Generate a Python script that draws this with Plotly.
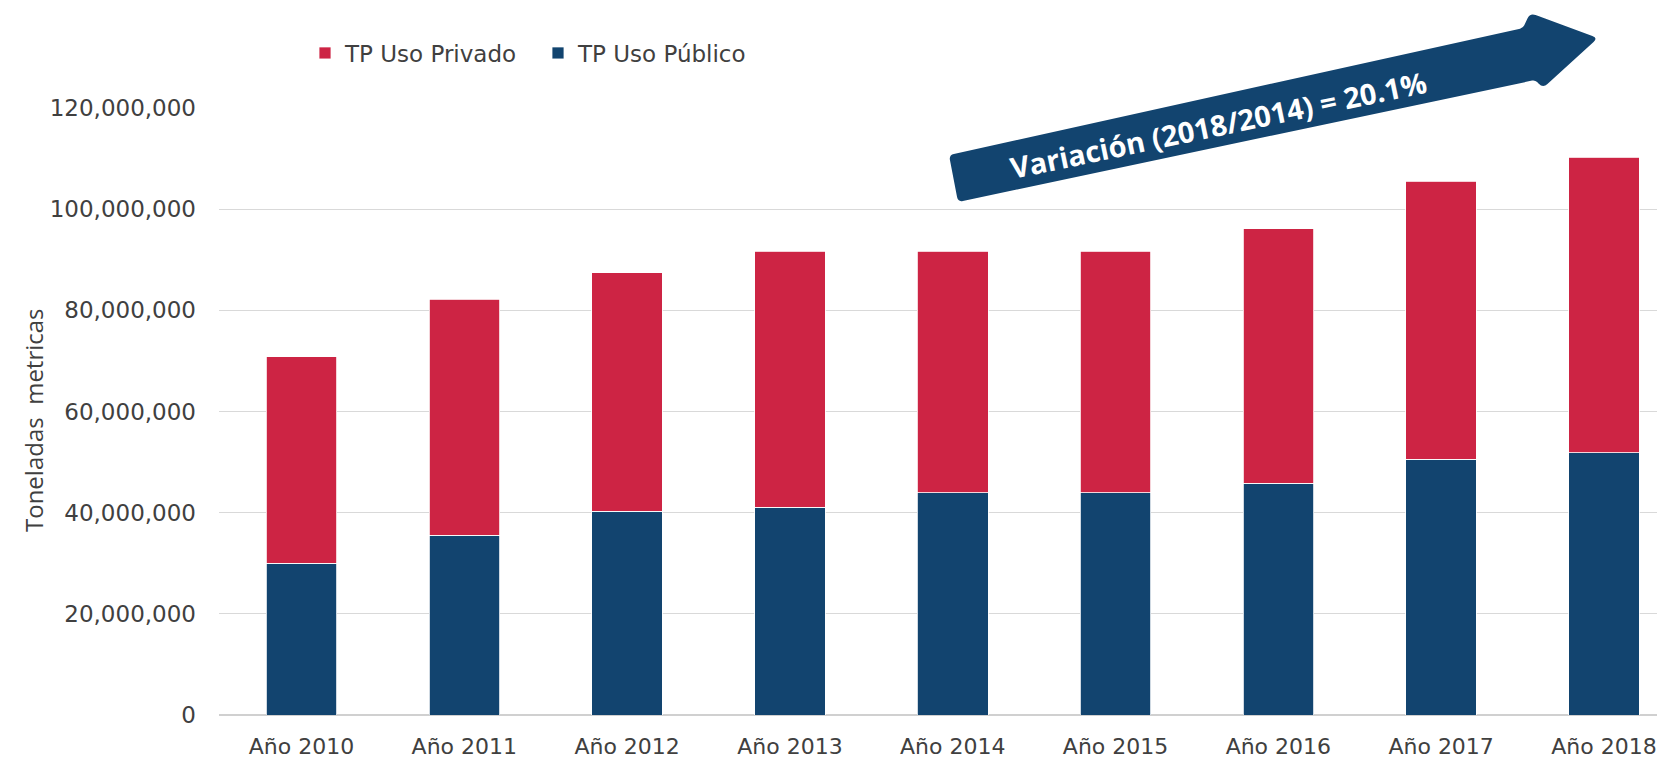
import math
import plotly.graph_objects as go

# ---------------- data ----------------
categories = ["Año 2010", "Año 2011", "Año 2012", "Año 2013", "Año 2014",
              "Año 2015", "Año 2016", "Año 2017", "Año 2018"]
uso_publico = [30.0e6, 35.5e6, 40.3e6, 41.1e6, 43.9e6, 43.9e6, 45.8e6, 50.6e6, 51.8e6]
uso_privado = [40.8e6, 46.7e6, 47.1e6, 50.6e6, 47.8e6, 47.8e6, 50.3e6, 54.9e6, 58.5e6]
y_tick_vals = [0, 20e6, 40e6, 60e6, 80e6, 100e6, 120e6]
y_tick_text = ["0", "20,000,000", "40,000,000", "60,000,000",
               "80,000,000", "100,000,000", "120,000,000"]
y_title = "Toneladas  metricas"
arrow_label = "Variación (2018/2014) = 20.1%"

RED = "#CD2444"
BLUE = "#12446F"
TXT = "#404040"

# ---------------- layout geometry ----------------
# The page adds an 8px body margin; figure is sized to fill the 1665x758 window.
OFF = 8
W, H = 1665 - OFF, 758 - OFF
L, R, T, B = 211, W, 100, 707   # plot area in figure pixels


def px(x_page):
    return (x_page - OFF - L) / (R - L)


def py(y_page):
    return (B - (y_page - OFF)) / (B - T)


# arrow outline (page pixels) with per-corner rounding
arrow_pts = [(949, 155), (1523, 28), (1530, 13), (1598, 38),
             (1543, 88), (1535, 80), (958, 202)]
arrow_rad = [5, 3, 6, 6, 6, 3, 5]


def rounded_path(points, rads):
    n = len(points)
    segs = []
    for i in range(n):
        p0 = points[i - 1]
        p1 = points[i]
        p2 = points[(i + 1) % n]
        r = rads[i]
        d1 = math.hypot(p0[0] - p1[0], p0[1] - p1[1])
        d2 = math.hypot(p2[0] - p1[0], p2[1] - p1[1])
        a = (p1[0] + (p0[0] - p1[0]) * r / d1, p1[1] + (p0[1] - p1[1]) * r / d1)
        b = (p1[0] + (p2[0] - p1[0]) * r / d2, p1[1] + (p2[1] - p1[1]) * r / d2)
        segs.append((a, p1, b))
    s = "M{:.5f},{:.5f} ".format(px(segs[0][0][0]), py(segs[0][0][1]))
    for k, (a, c, b) in enumerate(segs):
        if k > 0:
            s += "L{:.5f},{:.5f} ".format(px(a[0]), py(a[1]))
        s += "Q{:.5f},{:.5f} {:.5f},{:.5f} ".format(px(c[0]), py(c[1]), px(b[0]), py(b[1]))
    return s + "Z"


arrow_path = rounded_path(arrow_pts, arrow_rad)

# ---------------- figure ----------------
fig = go.Figure()
fig.add_trace(go.Bar(
    x=categories, y=uso_publico, name="TP Uso Público",
    marker=dict(color=BLUE, line=dict(color="#ffffff", width=0.8)),
    width=0.434, legendrank=2,
))
fig.add_trace(go.Bar(
    x=categories, y=uso_privado, name="TP Uso Privado",
    marker=dict(color=RED, line=dict(color="#ffffff", width=0.8)),
    width=0.434, legendrank=1,
))

fig.update_layout(
    width=W, height=H,
    margin=dict(l=L, r=W - R, t=T, b=H - B, autoexpand=False),
    barmode="stack",
    plot_bgcolor="white", paper_bgcolor="white",
    font=dict(family="DejaVu Sans", color=TXT),
    showlegend=True,
    legend=dict(
        orientation="h", traceorder="normal",
        x=px(305), xanchor="left", y=py(53), yanchor="middle",
        font=dict(family="DejaVu Sans", size=23, color=TXT),
        bgcolor="rgba(0,0,0,0)", entrywidth=188, entrywidthmode="pixels",
    ),
    xaxis=dict(
        range=[-0.507, 8.375], showgrid=False, showline=False, zeroline=False,
        ticks="", tickfont=dict(family="DejaVu Sans", size=22, color=TXT),
        ticklabelstandoff=16, fixedrange=True,
    ),
    yaxis=dict(
        range=[0, 120e6], tickvals=y_tick_vals, ticktext=y_tick_text,
        showgrid=True, gridcolor="#d9d9d9", gridwidth=1.2,
        zeroline=True, zerolinecolor="#d0d0d0", zerolinewidth=1.5,
        showline=False, ticks="",
        tickfont=dict(family="DejaVu Sans", size=23, color=TXT),
        ticklabelstandoff=22,
        fixedrange=True,
    ),
    shapes=[dict(
        type="path", xref="paper", yref="paper", path=arrow_path,
        fillcolor=BLUE, line=dict(width=0), layer="above",
    )],
    annotations=[
        dict(
            text=arrow_label, xref="paper", yref="paper",
            x=px(1218), y=py(124), xanchor="center", yanchor="middle",
            textangle=-11.8, showarrow=False,
            font=dict(family="Open Sans", size=29, color="white", weight="bold"),
        ),
        dict(
            text=y_title, xref="paper", yref="paper",
            x=px(33), y=py(420), xanchor="center", yanchor="middle",
            textangle=-90, showarrow=False,
            font=dict(family="Open Sans", size=24, color=TXT),
        ),
    ],
)

fig.write_html("out.html")
